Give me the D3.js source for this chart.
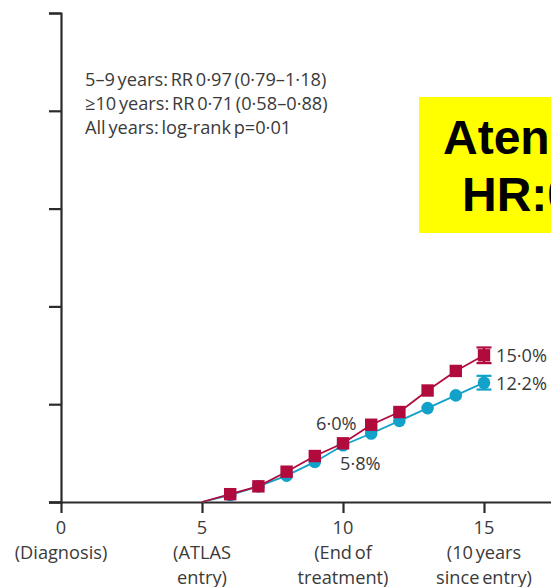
<!DOCTYPE html>
<html>
<head>
<meta charset="utf-8">
<script src="https://cdn.jsdelivr.net/npm/d3@7"></script>
<style>
  html, body { margin: 0; padding: 0; background: #fff; overflow: hidden; }
  svg { display: block; }
</style>
</head>
<body>
<script>
// Years since diagnosis at which cumulative risk is plotted
const years = [5, 6, 7, 8, 9, 10, 11, 12, 13, 14, 15];
// Cumulative breast cancer mortality (%), tamoxifen stopped at 5 years
const stopped = [0, 0.8, 1.6, 3.1, 4.7, 6.0, 7.9, 9.2, 11.4, 13.4, 15.0];
// Cumulative breast cancer mortality (%), tamoxifen continued to 10 years
const continued = [0, 0.7, 1.6, 2.7, 4.1, 5.8, 7.0, 8.3, 9.6, 10.9, 12.2];
// 95% CI at year 15 for each arm
const stoppedCI = [14.2, 15.8];
const continuedCI = [11.5, 12.9];

const xTicks = [0, 5, 10, 15];
const xTickLabels = [
  ["0", "(Diagnosis)"],
  ["5", "(ATLAS", "entry)"],
  ["10", "(End of", "treatment)"],
  ["15", "(10 years", "since entry)"]
];
const yTicks = [0, 10, 20, 30, 40, 50];
const statLines = [
  "5–9 years: RR 0·97 (0·79–1·18)",
  "≥10 years: RR 0·71 (0·58–0·88)",
  "All years: log-rank p=0·01"
];
const midLabels = [
  { year: 10, text: "6·0%", dx: -27, dy: -13 },
  { year: 10, text: "5·8%", dx: -3, dy: 25 }
];
const endLabels = ["15·0%", "12·2%"];
const calloutLines = ["Aten", "HR:0"];

const W = 551, H = 587;
const RED = "#b10a3c", BLUE = "#12a2c9", INK = "#2b2b2b", TXT = "#3a3a3a";
const FONT = "'Open Sans', sans-serif";
const FS = 18.2;

const svg = d3.select("body").append("svg")
  .attr("width", W).attr("height", H)
  .style("background", "#fff");

const x = d3.scaleLinear().domain([0, 17.5]).range([61, 554.5]);
const y = d3.scaleLinear().domain([0, 50]).range([502, 13]);

// Axes
const xAxis = svg.append("g").attr("transform", `translate(0,${y(0)})`)
  .call(d3.axisBottom(x).tickValues(xTicks).tickSize(11).tickFormat(""));
const yAxis = svg.append("g").attr("transform", `translate(${x(0)},0)`)
  .call(d3.axisLeft(y).tickValues(yTicks).tickSize(12).tickFormat(""));
[xAxis, yAxis].forEach(g => {
  g.select(".domain").attr("stroke", INK).attr("stroke-width", 2.2);
  g.selectAll(".tick line").attr("stroke", INK).attr("stroke-width", 2.2);
});
// extend the x baseline left to meet the y tick
xAxis.select(".domain").attr("d", `M49,0.5H${W + 5}`);

// X tick labels (multi-line)
const xl = svg.append("g").attr("font-family", FONT).attr("font-size", FS)
  .attr("fill", TXT).attr("text-anchor", "middle").attr("word-spacing", -2);
xTickLabels.forEach((lines, i) => {
  const t = xl.append("text").attr("x", x(xTicks[i]));
  lines.forEach((s, j) => {
    t.append("tspan").attr("x", x(xTicks[i])).attr("y", 534 + j * 25).text(s);
  });
});

// Statistics text
svg.append("g").attr("font-family", FONT).attr("font-size", FS)
  .attr("fill", TXT).attr("word-spacing", -2)
  .selectAll("text").data(statLines).join("text")
  .attr("x", 85).attr("y", (d, i) => 86 + i * 24).text(d => d);

// Series lines and markers
const line = d3.line().x((d, i) => x(years[i])).y(d => y(d));

svg.append("path").datum(continued).attr("d", line)
  .attr("fill", "none").attr("stroke", BLUE).attr("stroke-width", 1.8);
svg.append("path").datum(stopped).attr("d", line)
  .attr("fill", "none").attr("stroke", RED).attr("stroke-width", 1.8);

// Error bars at year 15
function errBar(ci, color) {
  const g = svg.append("g").attr("stroke", color).attr("stroke-width", 2.2);
  const cx = x(years[years.length - 1]);
  g.append("line").attr("x1", cx).attr("x2", cx).attr("y1", y(ci[0])).attr("y2", y(ci[1]));
  ci.forEach(v => g.append("line").attr("x1", cx - 7.5).attr("x2", cx + 7.5)
    .attr("y1", y(v)).attr("y2", y(v)));
}
errBar(continuedCI, BLUE);
errBar(stoppedCI, RED);

svg.append("g").selectAll("circle").data(continued.slice(1)).join("circle")
  .attr("cx", (d, i) => x(years[i + 1])).attr("cy", d => y(d))
  .attr("r", 6.3).attr("fill", BLUE);
svg.append("g").selectAll("rect").data(stopped.slice(1)).join("rect")
  .attr("x", (d, i) => x(years[i + 1]) - 6.2).attr("y", d => y(d) - 6.2)
  .attr("width", 12.4).attr("height", 12.4).attr("fill", RED);

// Value labels
const vl = svg.append("g").attr("font-family", FONT).attr("font-size", FS).attr("fill", TXT);
vl.append("text").attr("x", x(10) + midLabels[0].dx).attr("y", y(stopped[5]) + midLabels[0].dy).text(midLabels[0].text);
vl.append("text").attr("x", x(10) + midLabels[1].dx).attr("y", y(continued[5]) + midLabels[1].dy).text(midLabels[1].text);
vl.append("text").attr("x", x(15) + 12).attr("y", y(stopped[10]) + 6.5).text(endLabels[0]);
vl.append("text").attr("x", x(15) + 12).attr("y", y(continued[10]) + 7).text(endLabels[1]);

// Callout box
const cb = svg.append("g");
cb.append("rect").attr("x", 419).attr("y", 97).attr("width", 160).attr("height", 136).attr("fill", "#ffff00");
cb.append("text").attr("x", 443).attr("y", 154).attr("font-family", "'Liberation Sans', Arial, sans-serif")
  .attr("font-weight", "bold").attr("font-size", 48).attr("fill", "#000").text(calloutLines[0]);
cb.append("text").attr("x", 462).attr("y", 211).attr("font-family", "'Liberation Sans', Arial, sans-serif")
  .attr("font-weight", "bold").attr("font-size", 48).attr("fill", "#000").text(calloutLines[1]);
</script>
</body>
</html>
